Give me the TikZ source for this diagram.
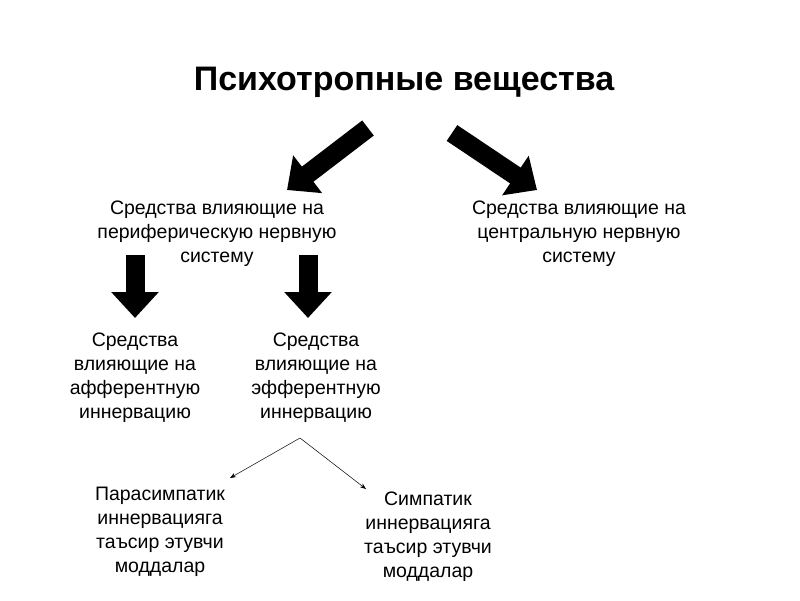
\documentclass[tikz,border=0pt]{standalone}
\usepackage{fontspec}
\setmainfont{Liberation Sans}
\usetikzlibrary{arrows.meta, positioning}

\begin{document}
\begin{tikzpicture}[x=1pt, y=-1pt,
    txt/.style={align=center, font=\fontsize{19.5}{24}\selectfont},
    fat/.style={line width=19pt, -{Triangle[length=26pt, width=46pt]}},
    link/.style={-{Stealth[length=6pt]}, line width=0.5pt}]
  \useasboundingbox (0,0) rectangle (800,600);
  \node[font=\bfseries\fontsize{34}{40}\selectfont] (title) at (404,82) {Психотропные вещества};
  \node[txt] (peri) at (217,234) {Средства влияющие на\\периферическую нервную\\систему};
  \node[txt] (cent) at (579,234) {Средства влияющие на\\центральную нервную\\систему};
  \node[txt] (aff)  at (135,378) {Средства\\влияющие на\\афферентную\\иннервацию};
  \node[txt] (eff)  at (316,378) {Средства\\влияющие на\\эфферентную\\иннервацию};
  \node[txt] (para) at (160,532) {Парасимпатик\\иннервацияга\\таъсир этувчи\\моддалар};
  \node[txt] (simp) at (428,537) {Симпатик\\иннервацияга\\таъсир этувчи\\моддалар};
  % block arrows
  \coordinate (l0) at (368,128); \coordinate (l1) at (287,190);
  \coordinate (r0) at (452,133); \coordinate (r1) at (537,190);
  \coordinate (a0) at (135,255); \coordinate (a1) at (135,318);
  \coordinate (e0) at (308,255); \coordinate (e1) at (308,318);
  \coordinate (split) at (300,438);
  \coordinate (pend) at (230,478); \coordinate (send) at (366,489);
  \draw[fat] (l0) -- (l1);
  \draw[fat] (r0) -- (r1);
  \draw[fat] (a0) -- (a1);
  \draw[fat] (e0) -- (e1);
  \draw[link] (split) -- (pend);
  \draw[link] (split) -- (send);
\end{tikzpicture}
\end{document}
